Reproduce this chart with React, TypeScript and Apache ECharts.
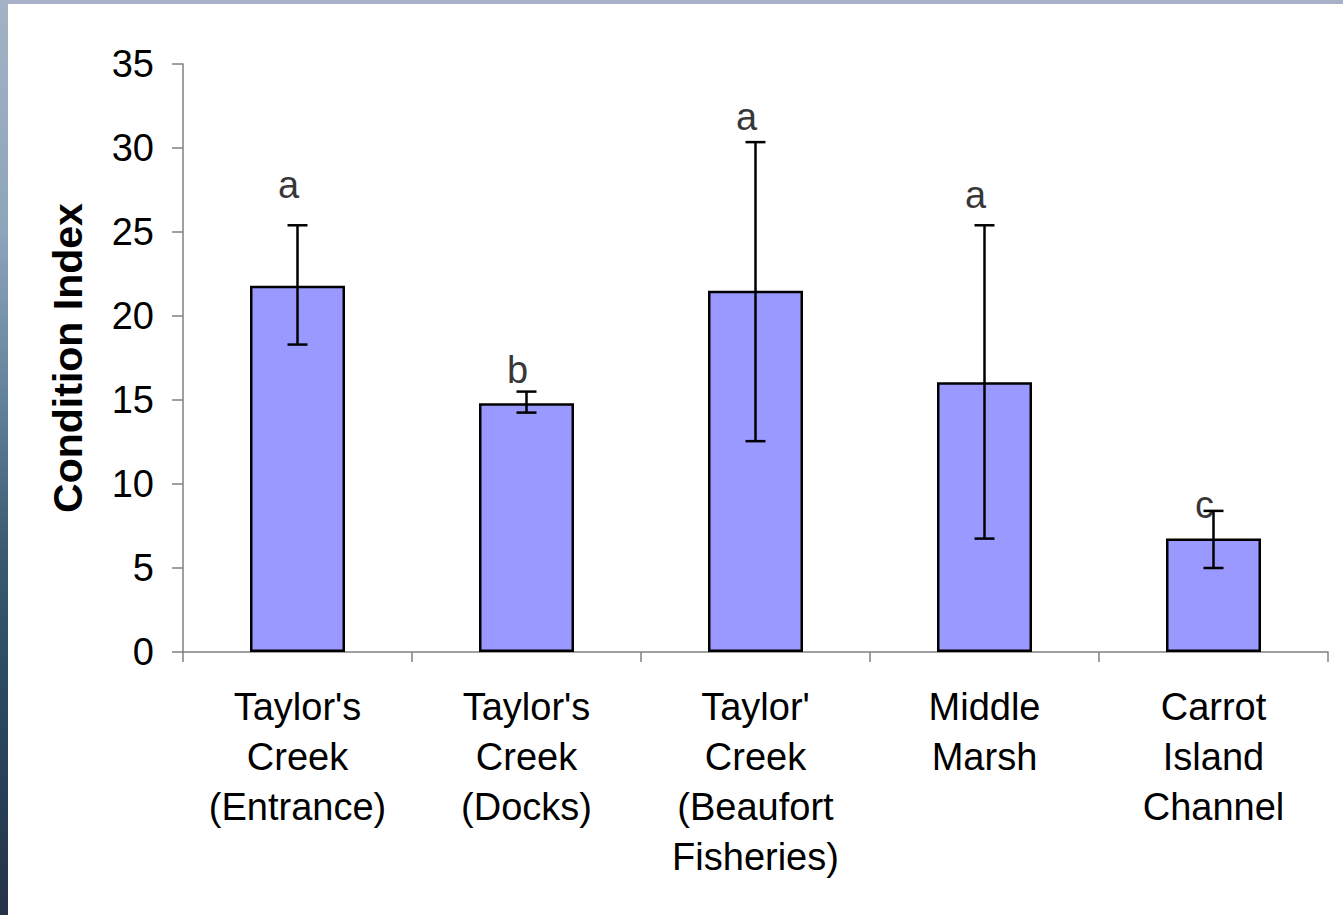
import React, { useEffect, useRef } from "react";
import * as echarts from "echarts";

const categories = [
  "Taylor's\nCreek\n(Entrance)",
  "Taylor's\nCreek\n(Docks)",
  "Taylor'\nCreek\n(Beaufort\nFisheries)",
  "Middle\nMarsh",
  "Carrot\nIsland\nChannel",
];
const means = [21.8, 14.8, 21.5, 16.05, 6.75];
const errLow = [18.3, 14.25, 12.55, 6.75, 5.0];
const errHigh = [25.4, 15.5, 30.35, 25.4, 8.4];
const letters = ["a", "b", "a", "a", "c"];
const letterY = [27.8, 16.8, 31.85, 27.2, 8.75];

const FONT = "'Liberation Sans', Arial, sans-serif";

export default function App() {
  const ref = useRef<HTMLDivElement>(null);

  useEffect(() => {
    if (!ref.current) return;
    const chart = echarts.init(ref.current, undefined, { renderer: "svg" });
    chart.setOption({
      animation: false,
      backgroundColor: "#ffffff",
      textStyle: { fontFamily: FONT },
      grid: { left: 175, right: 15, top: 60, bottom: 263, containLabel: false },
      xAxis: {
        type: "category",
        data: categories,
        boundaryGap: true,
        axisLine: { show: true, lineStyle: { color: "#808080", width: 1.5 } },
        axisTick: { show: true, length: 10, lineStyle: { color: "#808080", width: 1.5 } },
        axisLabel: {
          interval: 0,
          margin: 30,
          color: "#000",
          fontSize: 38,
          lineHeight: 50,
          fontFamily: FONT,
          verticalAlign: "top",
        },
      },
      yAxis: {
        type: "value",
        min: 0,
        max: 35,
        interval: 5,
        name: "Condition Index",
        nameLocation: "middle",
        nameGap: 95,
        nameTextStyle: { fontSize: 41, fontWeight: "bold", color: "#000", fontFamily: FONT },
        axisLine: { show: true, lineStyle: { color: "#808080", width: 1.5 } },
        axisTick: { show: true, length: 11, lineStyle: { color: "#808080", width: 1.5 } },
        splitLine: { show: false },
        axisLabel: { margin: 29, color: "#000", fontSize: 38, fontFamily: FONT },
      },
      series: [
        {
          type: "bar",
          data: means,
          barWidth: 95,
          itemStyle: { color: "#9999ff", borderColor: "#000", borderWidth: 2.5 },
          z: 2,
        },
        {
          type: "custom",
          data: categories.map((_, i) => [i, errLow[i], errHigh[i]]),
          z: 3,
          renderItem: (params: any, api: any) => {
            const lo = api.coord([api.value(0), api.value(1)]);
            const hi = api.coord([api.value(0), api.value(2)]);
            const cap = 10;
            const style = { stroke: "#000", lineWidth: 2.5 };
            return {
              type: "group",
              children: [
                { type: "line", shape: { x1: hi[0], y1: hi[1], x2: lo[0], y2: lo[1] }, style },
                { type: "line", shape: { x1: hi[0] - cap, y1: hi[1], x2: hi[0] + cap, y2: hi[1] }, style },
                { type: "line", shape: { x1: lo[0] - cap, y1: lo[1], x2: lo[0] + cap, y2: lo[1] }, style },
              ],
            };
          },
        },
        {
          type: "scatter",
          data: categories.map((_, i) => [i, letterY[i]]),
          symbolSize: 0,
          z: 4,
          label: {
            show: true,
            position: "inside",
            offset: [-9, 0],
            formatter: (p: any) => letters[p.dataIndex],
            color: "#000",
            fontSize: 38,
            fontFamily: FONT,
          },
        },
      ],
    });
    return () => chart.dispose();
  }, []);

  return (
    <div
      style={{
        position: "fixed",
        left: 0,
        top: 0,
        width: 1343,
        height: 915,
        background: "linear-gradient(180deg, #a9b1c9 0px, #a9b1c9 4px, transparent 4px)",
      }}
    >
      <div
        style={{
          position: "absolute",
          left: 0,
          top: 0,
          width: 8,
          height: 915,
          background:
            "linear-gradient(180deg, #a3b2c4 0%, #8ea5bb 25%, #5f7f99 45%, #3a5a72 60%, #2a4a62 75%, #253248 100%)",
        }}
      />
      <div
        ref={ref}
        style={{ position: "absolute", left: 8, top: 4, width: 1335, height: 911, background: "#fff" }}
      />
    </div>
  );
}
